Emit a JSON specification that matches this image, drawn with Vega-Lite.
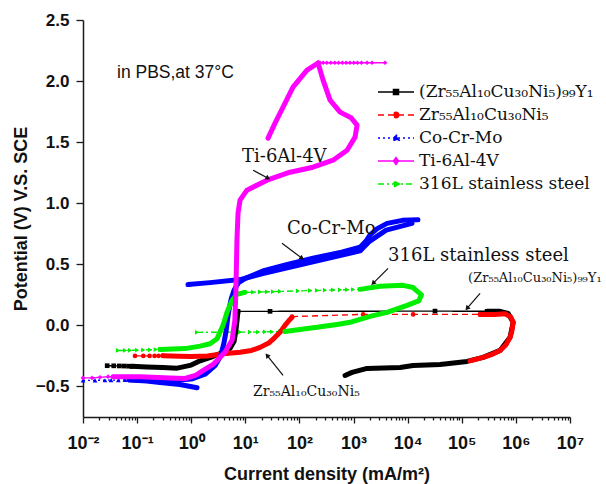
{
"$schema": "https://vega.github.io/schema/vega-lite/v6.json",
"width": 487, "height": 397,
"autosize": {"type": "none"},
"padding": {"left": 83, "top": 20, "right": 36, "bottom": 67},
"background": "white",
"config": {
  "view": {"stroke": null},
  "axis": {"grid": false, "domainColor": "#1a1a1a", "domainWidth": 1.5, "tickColor": "#1a1a1a", "tickWidth": 1.3, "labelFont": "Liberation Sans", "labelFontWeight": "bold", "labelFontSize": 16, "labelColor": "#111111", "titleFont": "Liberation Sans", "titleFontWeight": "bold", "titleFontSize": 18, "titleColor": "#111111"}
},
"datasets": {
"bands": [
{"series":"(Zr₅₅Al₁₀Cu₃₀Ni₅)₉₉Y₁","seg":"k1","i":0,"x":0.08,"y":-0.335},
{"series":"(Zr₅₅Al₁₀Cu₃₀Ni₅)₉₉Y₁","seg":"k1","i":1,"x":0.15,"y":-0.34},
{"series":"(Zr₅₅Al₁₀Cu₃₀Ni₅)₉₉Y₁","seg":"k1","i":2,"x":0.3,"y":-0.345},
{"series":"(Zr₅₅Al₁₀Cu₃₀Ni₅)₉₉Y₁","seg":"k1","i":3,"x":0.55,"y":-0.35},
{"series":"(Zr₅₅Al₁₀Cu₃₀Ni₅)₉₉Y₁","seg":"k1","i":4,"x":1.0,"y":-0.325},
{"series":"(Zr₅₅Al₁₀Cu₃₀Ni₅)₉₉Y₁","seg":"k1","i":5,"x":1.46,"y":-0.29},
{"series":"(Zr₅₅Al₁₀Cu₃₀Ni₅)₉₉Y₁","seg":"k1","i":6,"x":2.5,"y":-0.255},
{"series":"(Zr₅₅Al₁₀Cu₃₀Ni₅)₉₉Y₁","seg":"k1","i":7,"x":3.4,"y":-0.23},
{"series":"(Zr₅₅Al₁₀Cu₃₀Ni₅)₉₉Y₁","seg":"k1","i":8,"x":5.2,"y":-0.19},
{"series":"(Zr₅₅Al₁₀Cu₃₀Ni₅)₉₉Y₁","seg":"k1","i":9,"x":6.2,"y":-0.13},
{"series":"(Zr₅₅Al₁₀Cu₃₀Ni₅)₉₉Y₁","seg":"k1","i":10,"x":6.7,"y":-0.04},
{"series":"(Zr₅₅Al₁₀Cu₃₀Ni₅)₉₉Y₁","seg":"k1","i":11,"x":7.1,"y":0.06},
{"series":"(Zr₅₅Al₁₀Cu₃₀Ni₅)₉₉Y₁","seg":"k1","i":12,"x":7.3,"y":0.115},
{"series":"(Zr₅₅Al₁₀Cu₃₀Ni₅)₉₉Y₁","seg":"k2","i":0,"x":294000,"y":0.115},
{"series":"(Zr₅₅Al₁₀Cu₃₀Ni₅)₉₉Y₁","seg":"k2","i":1,"x":510000,"y":0.115},
{"series":"(Zr₅₅Al₁₀Cu₃₀Ni₅)₉₉Y₁","seg":"k2","i":2,"x":720000,"y":0.098},
{"series":"(Zr₅₅Al₁₀Cu₃₀Ni₅)₉₉Y₁","seg":"k2","i":3,"x":890000,"y":0.025},
{"series":"(Zr₅₅Al₁₀Cu₃₀Ni₅)₉₉Y₁","seg":"k2","i":4,"x":780000,"y":-0.098},
{"series":"(Zr₅₅Al₁₀Cu₃₀Ni₅)₉₉Y₁","seg":"k2","i":5,"x":510000,"y":-0.205},
{"series":"(Zr₅₅Al₁₀Cu₃₀Ni₅)₉₉Y₁","seg":"k2","i":6,"x":248000,"y":-0.262},
{"series":"(Zr₅₅Al₁₀Cu₃₀Ni₅)₉₉Y₁","seg":"k2","i":7,"x":125000,"y":-0.295},
{"series":"(Zr₅₅Al₁₀Cu₃₀Ni₅)₉₉Y₁","seg":"k2","i":8,"x":39700,"y":-0.32},
{"series":"(Zr₅₅Al₁₀Cu₃₀Ni₅)₉₉Y₁","seg":"k2","i":9,"x":12600,"y":-0.328},
{"series":"(Zr₅₅Al₁₀Cu₃₀Ni₅)₉₉Y₁","seg":"k2","i":10,"x":7230,"y":-0.344},
{"series":"(Zr₅₅Al₁₀Cu₃₀Ni₅)₉₉Y₁","seg":"k2","i":11,"x":1780,"y":-0.352},
{"series":"(Zr₅₅Al₁₀Cu₃₀Ni₅)₉₉Y₁","seg":"k2","i":12,"x":938,"y":-0.385},
{"series":"(Zr₅₅Al₁₀Cu₃₀Ni₅)₉₉Y₁","seg":"k2","i":13,"x":697,"y":-0.41},
{"series":"Zr₅₅Al₁₀Cu₃₀Ni₅","seg":"r1","i":0,"x":0.3,"y":-0.248},
{"series":"Zr₅₅Al₁₀Cu₃₀Ni₅","seg":"r1","i":1,"x":0.6,"y":-0.252},
{"series":"Zr₅₅Al₁₀Cu₃₀Ni₅","seg":"r1","i":2,"x":1.0,"y":-0.255},
{"series":"Zr₅₅Al₁₀Cu₃₀Ni₅","seg":"r1","i":3,"x":2.0,"y":-0.25},
{"series":"Zr₅₅Al₁₀Cu₃₀Ni₅","seg":"r1","i":4,"x":3.9,"y":-0.232},
{"series":"Zr₅₅Al₁₀Cu₃₀Ni₅","seg":"r1","i":5,"x":8.0,"y":-0.22},
{"series":"Zr₅₅Al₁₀Cu₃₀Ni₅","seg":"r1","i":6,"x":13,"y":-0.205},
{"series":"Zr₅₅Al₁₀Cu₃₀Ni₅","seg":"r1","i":7,"x":18.7,"y":-0.18},
{"series":"Zr₅₅Al₁₀Cu₃₀Ni₅","seg":"r1","i":8,"x":27,"y":-0.145},
{"series":"Zr₅₅Al₁₀Cu₃₀Ni₅","seg":"r1","i":9,"x":35,"y":-0.1},
{"series":"Zr₅₅Al₁₀Cu₃₀Ni₅","seg":"r1","i":10,"x":45,"y":-0.05},
{"series":"Zr₅₅Al₁₀Cu₃₀Ni₅","seg":"r1","i":11,"x":54,"y":0.0},
{"series":"Zr₅₅Al₁₀Cu₃₀Ni₅","seg":"r1","i":12,"x":64,"y":0.04},
{"series":"Zr₅₅Al₁₀Cu₃₀Ni₅","seg":"r1","i":13,"x":73,"y":0.066},
{"series":"Zr₅₅Al₁₀Cu₃₀Ni₅","seg":"r2","i":0,"x":218000,"y":0.09},
{"series":"Zr₅₅Al₁₀Cu₃₀Ni₅","seg":"r2","i":1,"x":400000,"y":0.09},
{"series":"Zr₅₅Al₁₀Cu₃₀Ni₅","seg":"r2","i":2,"x":630000,"y":0.095},
{"series":"Zr₅₅Al₁₀Cu₃₀Ni₅","seg":"r2","i":3,"x":800000,"y":0.07},
{"series":"Zr₅₅Al₁₀Cu₃₀Ni₅","seg":"r2","i":4,"x":890000,"y":0.025},
{"series":"Zr₅₅Al₁₀Cu₃₀Ni₅","seg":"r2","i":5,"x":840000,"y":-0.05},
{"series":"Zr₅₅Al₁₀Cu₃₀Ni₅","seg":"r2","i":6,"x":780000,"y":-0.1},
{"series":"Zr₅₅Al₁₀Cu₃₀Ni₅","seg":"r2","i":7,"x":650000,"y":-0.16},
{"series":"Zr₅₅Al₁₀Cu₃₀Ni₅","seg":"r2","i":8,"x":510000,"y":-0.205},
{"series":"Zr₅₅Al₁₀Cu₃₀Ni₅","seg":"r2","i":9,"x":350000,"y":-0.24},
{"series":"Zr₅₅Al₁₀Cu₃₀Ni₅","seg":"r2","i":10,"x":248000,"y":-0.262},
{"series":"Zr₅₅Al₁₀Cu₃₀Ni₅","seg":"r2","i":11,"x":142000,"y":-0.29},
{"series":"Co-Cr-Mo","seg":"b1","i":0,"x":0.074,"y":-0.448},
{"series":"Co-Cr-Mo","seg":"b1","i":1,"x":0.15,"y":-0.455},
{"series":"Co-Cr-Mo","seg":"b1","i":2,"x":0.265,"y":-0.467},
{"series":"Co-Cr-Mo","seg":"b1","i":3,"x":0.62,"y":-0.484},
{"series":"Co-Cr-Mo","seg":"b1","i":4,"x":1.28,"y":-0.51},
{"series":"Co-Cr-Mo","seg":"b2","i":0,"x":0.07,"y":-0.445},
{"series":"Co-Cr-Mo","seg":"b2","i":1,"x":0.2,"y":-0.45},
{"series":"Co-Cr-Mo","seg":"b2","i":2,"x":0.5,"y":-0.45},
{"series":"Co-Cr-Mo","seg":"b2","i":3,"x":1.0,"y":-0.44},
{"series":"Co-Cr-Mo","seg":"b2","i":4,"x":1.8,"y":-0.4},
{"series":"Co-Cr-Mo","seg":"b2","i":5,"x":2.75,"y":-0.33},
{"series":"Co-Cr-Mo","seg":"b2","i":6,"x":3.5,"y":-0.25},
{"series":"Co-Cr-Mo","seg":"b2","i":7,"x":4.0,"y":-0.15},
{"series":"Co-Cr-Mo","seg":"b2","i":8,"x":4.4,"y":-0.05},
{"series":"Co-Cr-Mo","seg":"b2","i":9,"x":4.7,"y":0.05},
{"series":"Co-Cr-Mo","seg":"b2","i":10,"x":5.0,"y":0.13},
{"series":"Co-Cr-Mo","seg":"b2","i":11,"x":5.5,"y":0.22},
{"series":"Co-Cr-Mo","seg":"b2","i":12,"x":6.2,"y":0.29},
{"series":"Co-Cr-Mo","seg":"b2","i":13,"x":7.5,"y":0.35},
{"series":"Co-Cr-Mo","seg":"b2","i":14,"x":10,"y":0.385},
{"series":"Co-Cr-Mo","seg":"b2","i":15,"x":21,"y":0.445},
{"series":"Co-Cr-Mo","seg":"b2","i":16,"x":60,"y":0.5},
{"series":"Co-Cr-Mo","seg":"b2","i":17,"x":178,"y":0.55},
{"series":"Co-Cr-Mo","seg":"b2","i":18,"x":600,"y":0.6},
{"series":"Co-Cr-Mo","seg":"b2","i":19,"x":1318,"y":0.64},
{"series":"Co-Cr-Mo","seg":"b2","i":20,"x":1700,"y":0.69},
{"series":"Co-Cr-Mo","seg":"b2","i":21,"x":2020,"y":0.74},
{"series":"Co-Cr-Mo","seg":"b2","i":22,"x":2700,"y":0.79},
{"series":"Co-Cr-Mo","seg":"b2","i":23,"x":4160,"y":0.835},
{"series":"Co-Cr-Mo","seg":"b2","i":24,"x":8000,"y":0.86},
{"series":"Co-Cr-Mo","seg":"b2","i":25,"x":15500,"y":0.865},
{"series":"Co-Cr-Mo","seg":"b3","i":0,"x":12000,"y":0.835},
{"series":"Co-Cr-Mo","seg":"b3","i":1,"x":4000,"y":0.78},
{"series":"Co-Cr-Mo","seg":"b3","i":2,"x":2000,"y":0.69},
{"series":"Co-Cr-Mo","seg":"b3","i":3,"x":1318,"y":0.61},
{"series":"Co-Cr-Mo","seg":"b3","i":4,"x":178,"y":0.52},
{"series":"Co-Cr-Mo","seg":"b3","i":5,"x":21,"y":0.425},
{"series":"Co-Cr-Mo","seg":"b3","i":6,"x":8,"y":0.375},
{"series":"Co-Cr-Mo","seg":"b3","i":7,"x":2.23,"y":0.35},
{"series":"Co-Cr-Mo","seg":"b3","i":8,"x":0.87,"y":0.335},
{"series":"316L stainless steel","seg":"g1","i":0,"x":0.265,"y":-0.197},
{"series":"316L stainless steel","seg":"g1","i":1,"x":0.767,"y":-0.19},
{"series":"316L stainless steel","seg":"g1","i":2,"x":1.46,"y":-0.17},
{"series":"316L stainless steel","seg":"g1","i":3,"x":2.23,"y":-0.15},
{"series":"316L stainless steel","seg":"g1","i":4,"x":3.0,"y":-0.11},
{"series":"316L stainless steel","seg":"g1","i":5,"x":3.87,"y":0.0},
{"series":"316L stainless steel","seg":"g1","i":6,"x":4.6,"y":0.11},
{"series":"316L stainless steel","seg":"g1","i":7,"x":5.7,"y":0.205},
{"series":"316L stainless steel","seg":"g1","i":8,"x":7.0,"y":0.255},
{"series":"316L stainless steel","seg":"g1","i":9,"x":9.86,"y":0.27},
{"series":"316L stainless steel","seg":"g2","i":0,"x":1318,"y":0.295},
{"series":"316L stainless steel","seg":"g2","i":1,"x":3090,"y":0.32},
{"series":"316L stainless steel","seg":"g2","i":2,"x":8220,"y":0.328},
{"series":"316L stainless steel","seg":"g2","i":3,"x":12600,"y":0.31},
{"series":"316L stainless steel","seg":"g2","i":4,"x":18000,"y":0.25},
{"series":"316L stainless steel","seg":"g2","i":5,"x":16000,"y":0.2},
{"series":"316L stainless steel","seg":"g2","i":6,"x":9750,"y":0.164},
{"series":"316L stainless steel","seg":"g2","i":7,"x":4160,"y":0.107},
{"series":"316L stainless steel","seg":"g2","i":8,"x":2020,"y":0.074},
{"series":"316L stainless steel","seg":"g2","i":9,"x":861,"y":0.025},
{"series":"316L stainless steel","seg":"g2","i":10,"x":495,"y":0.008},
{"series":"316L stainless steel","seg":"g2","i":11,"x":211,"y":-0.016},
{"series":"316L stainless steel","seg":"g2","i":12,"x":102,"y":-0.033},
{"series":"316L stainless steel","seg":"g2","i":13,"x":54,"y":-0.05},
{"series":"Ti-6Al-4V","seg":"m1","i":0,"x":0.036,"y":-0.42},
{"series":"Ti-6Al-4V","seg":"m1","i":1,"x":0.113,"y":-0.42},
{"series":"Ti-6Al-4V","seg":"m1","i":2,"x":0.405,"y":-0.43},
{"series":"Ti-6Al-4V","seg":"m1","i":3,"x":0.77,"y":-0.435},
{"series":"Ti-6Al-4V","seg":"m1","i":4,"x":1.2,"y":-0.41},
{"series":"Ti-6Al-4V","seg":"m1","i":5,"x":1.46,"y":-0.385},
{"series":"Ti-6Al-4V","seg":"m1","i":6,"x":2.53,"y":-0.32},
{"series":"Ti-6Al-4V","seg":"m1","i":7,"x":4.2,"y":-0.22},
{"series":"Ti-6Al-4V","seg":"m1","i":8,"x":5.7,"y":-0.12},
{"series":"Ti-6Al-4V","seg":"m1","i":9,"x":6.4,"y":0.04},
{"series":"Ti-6Al-4V","seg":"m1","i":10,"x":6.7,"y":0.29},
{"series":"Ti-6Al-4V","seg":"m1","i":11,"x":7.0,"y":0.7},
{"series":"Ti-6Al-4V","seg":"m1","i":12,"x":7.33,"y":0.918},
{"series":"Ti-6Al-4V","seg":"m1","i":13,"x":7.98,"y":1.025},
{"series":"Ti-6Al-4V","seg":"m1","i":14,"x":10.7,"y":1.107},
{"series":"Ti-6Al-4V","seg":"m1","i":15,"x":25.2,"y":1.189},
{"series":"Ti-6Al-4V","seg":"m1","i":16,"x":67,"y":1.254},
{"series":"Ti-6Al-4V","seg":"m1","i":17,"x":178,"y":1.295},
{"series":"Ti-6Al-4V","seg":"m1","i":18,"x":418,"y":1.352},
{"series":"Ti-6Al-4V","seg":"m1","i":19,"x":759,"y":1.434},
{"series":"Ti-6Al-4V","seg":"m1","i":20,"x":1066,"y":1.541},
{"series":"Ti-6Al-4V","seg":"m1","i":21,"x":1161,"y":1.639},
{"series":"Ti-6Al-4V","seg":"m1","i":22,"x":900,"y":1.7},
{"series":"Ti-6Al-4V","seg":"m1","i":23,"x":563,"y":1.746},
{"series":"Ti-6Al-4V","seg":"m1","i":24,"x":368,"y":1.844},
{"series":"Ti-6Al-4V","seg":"m1","i":25,"x":273,"y":2.008},
{"series":"Ti-6Al-4V","seg":"m1","i":26,"x":221,"y":2.148},
{"series":"Ti-6Al-4V","seg":"m2","i":0,"x":221,"y":2.148},
{"series":"Ti-6Al-4V","seg":"m2","i":1,"x":138,"y":2.09},
{"series":"Ti-6Al-4V","seg":"m2","i":2,"x":76,"y":1.951},
{"series":"Ti-6Al-4V","seg":"m2","i":3,"x":49.8,"y":1.787},
{"series":"Ti-6Al-4V","seg":"m2","i":4,"x":35.4,"y":1.656},
{"series":"Ti-6Al-4V","seg":"m2","i":5,"x":26.3,"y":1.533}
],
"sparse": [
{"series":"(Zr₅₅Al₁₀Cu₃₀Ni₅)₉₉Y₁","seg":"ks1","i":0,"x":0.028,"y":-0.33},
{"series":"(Zr₅₅Al₁₀Cu₃₀Ni₅)₉₉Y₁","seg":"ks1","i":1,"x":0.037,"y":-0.331},
{"series":"(Zr₅₅Al₁₀Cu₃₀Ni₅)₉₉Y₁","seg":"ks1","i":2,"x":0.047,"y":-0.332},
{"series":"(Zr₅₅Al₁₀Cu₃₀Ni₅)₉₉Y₁","seg":"ks1","i":3,"x":0.058,"y":-0.333},
{"series":"(Zr₅₅Al₁₀Cu₃₀Ni₅)₉₉Y₁","seg":"ks1","i":4,"x":0.07,"y":-0.334},
{"series":"(Zr₅₅Al₁₀Cu₃₀Ni₅)₉₉Y₁","seg":"ks1","i":5,"x":0.08,"y":-0.335},
{"series":"(Zr₅₅Al₁₀Cu₃₀Ni₅)₉₉Y₁","seg":"ks2","i":0,"x":7.3,"y":0.115},
{"series":"(Zr₅₅Al₁₀Cu₃₀Ni₅)₉₉Y₁","seg":"ks2","i":1,"x":28.6,"y":0.115},
{"series":"(Zr₅₅Al₁₀Cu₃₀Ni₅)₉₉Y₁","seg":"ks2","i":2,"x":32000,"y":0.117},
{"series":"(Zr₅₅Al₁₀Cu₃₀Ni₅)₉₉Y₁","seg":"ks2","i":3,"x":294000,"y":0.115},
{"series":"Zr₅₅Al₁₀Cu₃₀Ni₅","seg":"rs1","i":0,"x":0.0914,"y":-0.25},
{"series":"Zr₅₅Al₁₀Cu₃₀Ni₅","seg":"rs1","i":1,"x":0.13,"y":-0.25},
{"series":"Zr₅₅Al₁₀Cu₃₀Ni₅","seg":"rs1","i":2,"x":0.17,"y":-0.25},
{"series":"Zr₅₅Al₁₀Cu₃₀Ni₅","seg":"rs1","i":3,"x":0.21,"y":-0.25},
{"series":"Zr₅₅Al₁₀Cu₃₀Ni₅","seg":"rs1","i":4,"x":0.25,"y":-0.249},
{"series":"Zr₅₅Al₁₀Cu₃₀Ni₅","seg":"rs1","i":5,"x":0.3,"y":-0.248},
{"series":"Zr₅₅Al₁₀Cu₃₀Ni₅","seg":"rs2","i":0,"x":73,"y":0.072},
{"series":"Zr₅₅Al₁₀Cu₃₀Ni₅","seg":"rs2","i":1,"x":1500,"y":0.09},
{"series":"Zr₅₅Al₁₀Cu₃₀Ni₅","seg":"rs2","i":2,"x":12600,"y":0.09},
{"series":"Zr₅₅Al₁₀Cu₃₀Ni₅","seg":"rs2","i":3,"x":218000,"y":0.09},
{"series":"Co-Cr-Mo","seg":"bs1","i":0,"x":0.01,"y":-0.45},
{"series":"Co-Cr-Mo","seg":"bs1","i":1,"x":0.0167,"y":-0.45},
{"series":"Co-Cr-Mo","seg":"bs1","i":2,"x":0.0255,"y":-0.449},
{"series":"Co-Cr-Mo","seg":"bs1","i":3,"x":0.033,"y":-0.448},
{"series":"Co-Cr-Mo","seg":"bs1","i":4,"x":0.045,"y":-0.448},
{"series":"Co-Cr-Mo","seg":"bs1","i":5,"x":0.06,"y":-0.447},
{"series":"Co-Cr-Mo","seg":"bs1","i":6,"x":0.074,"y":-0.447},
{"series":"Co-Cr-Mo","seg":"bs2","i":0,"x":0.87,"y":0.335},
{"series":"Co-Cr-Mo","seg":"bs2","i":1,"x":0.95,"y":0.337},
{"series":"Co-Cr-Mo","seg":"bs2","i":2,"x":1.05,"y":0.34},
{"series":"Co-Cr-Mo","seg":"bs3","i":0,"x":15500,"y":0.865},
{"series":"Ti-6Al-4V","seg":"ms1","i":0,"x":0.01,"y":-0.43},
{"series":"Ti-6Al-4V","seg":"ms1","i":1,"x":0.0147,"y":-0.43},
{"series":"Ti-6Al-4V","seg":"ms1","i":2,"x":0.0206,"y":-0.425},
{"series":"Ti-6Al-4V","seg":"ms1","i":3,"x":0.029,"y":-0.42},
{"series":"Ti-6Al-4V","seg":"ms1","i":4,"x":0.036,"y":-0.42},
{"series":"Ti-6Al-4V","seg":"ms2","i":0,"x":221,"y":2.148},
{"series":"Ti-6Al-4V","seg":"ms2","i":1,"x":240,"y":2.15},
{"series":"Ti-6Al-4V","seg":"ms2","i":2,"x":275,"y":2.15},
{"series":"Ti-6Al-4V","seg":"ms2","i":3,"x":320,"y":2.15},
{"series":"Ti-6Al-4V","seg":"ms2","i":4,"x":380,"y":2.15},
{"series":"Ti-6Al-4V","seg":"ms2","i":5,"x":450,"y":2.15},
{"series":"Ti-6Al-4V","seg":"ms2","i":6,"x":530,"y":2.15},
{"series":"Ti-6Al-4V","seg":"ms2","i":7,"x":620,"y":2.15},
{"series":"Ti-6Al-4V","seg":"ms2","i":8,"x":730,"y":2.15},
{"series":"Ti-6Al-4V","seg":"ms2","i":9,"x":860,"y":2.15},
{"series":"Ti-6Al-4V","seg":"ms2","i":10,"x":1010,"y":2.15},
{"series":"Ti-6Al-4V","seg":"ms2","i":11,"x":1180,"y":2.15},
{"series":"Ti-6Al-4V","seg":"ms2","i":12,"x":1400,"y":2.15},
{"series":"Ti-6Al-4V","seg":"ms2","i":13,"x":1780,"y":2.15},
{"series":"Ti-6Al-4V","seg":"ms2","i":14,"x":2200,"y":2.15},
{"series":"Ti-6Al-4V","seg":"ms2","i":15,"x":3820,"y":2.15},
{"series":"316L stainless steel","seg":"gs1","i":0,"x":0.0444,"y":-0.205},
{"series":"316L stainless steel","seg":"gs1","i":1,"x":0.06,"y":-0.205},
{"series":"316L stainless steel","seg":"gs1","i":2,"x":0.074,"y":-0.204},
{"series":"316L stainless steel","seg":"gs1","i":3,"x":0.1,"y":-0.203},
{"series":"316L stainless steel","seg":"gs1","i":4,"x":0.13,"y":-0.201},
{"series":"316L stainless steel","seg":"gs1","i":5,"x":0.173,"y":-0.2},
{"series":"316L stainless steel","seg":"gs1","i":6,"x":0.22,"y":-0.198},
{"series":"316L stainless steel","seg":"gs1","i":7,"x":0.265,"y":-0.197},
{"series":"316L stainless steel","seg":"gs2","i":0,"x":9.86,"y":0.27},
{"series":"316L stainless steel","seg":"gs2","i":1,"x":13.9,"y":0.272},
{"series":"316L stainless steel","seg":"gs2","i":2,"x":18.7,"y":0.274},
{"series":"316L stainless steel","seg":"gs2","i":3,"x":25.2,"y":0.275},
{"series":"316L stainless steel","seg":"gs2","i":4,"x":32.5,"y":0.276},
{"series":"316L stainless steel","seg":"gs2","i":5,"x":43.8,"y":0.278},
{"series":"316L stainless steel","seg":"gs2","i":6,"x":94,"y":0.282},
{"series":"316L stainless steel","seg":"gs2","i":7,"x":157,"y":0.285},
{"series":"316L stainless steel","seg":"gs2","i":8,"x":211,"y":0.286},
{"series":"316L stainless steel","seg":"gs2","i":9,"x":297,"y":0.288},
{"series":"316L stainless steel","seg":"gs2","i":10,"x":418,"y":0.29},
{"series":"316L stainless steel","seg":"gs2","i":11,"x":563,"y":0.291},
{"series":"316L stainless steel","seg":"gs2","i":12,"x":759,"y":0.292},
{"series":"316L stainless steel","seg":"gs2","i":13,"x":979,"y":0.294},
{"series":"316L stainless steel","seg":"gs2","i":14,"x":1318,"y":0.295},
{"series":"316L stainless steel","seg":"gs3","i":0,"x":1.28,"y":-0.057},
{"series":"316L stainless steel","seg":"gs3","i":1,"x":8,"y":-0.055},
{"series":"316L stainless steel","seg":"gs3","i":2,"x":12.2,"y":-0.055},
{"series":"316L stainless steel","seg":"gs3","i":3,"x":17.2,"y":-0.055},
{"series":"316L stainless steel","seg":"gs3","i":4,"x":23.1,"y":-0.053},
{"series":"316L stainless steel","seg":"gs3","i":5,"x":31.2,"y":-0.052},
{"series":"316L stainless steel","seg":"gs3","i":6,"x":43.8,"y":-0.05},
{"series":"316L stainless steel","seg":"gs3","i":7,"x":54,"y":-0.05}
]
},
"resolve": {"scale": {"color": "independent", "shape": "independent", "strokeDash": "independent", "stroke": "independent", "fill": "independent"}},
"layer": [
{
 "data": {"name": "sparse"},
 "mark": {"type": "line", "strokeWidth": 1.4},
 "encoding": {
  "x": {"field": "x", "type": "quantitative",
        "scale": {"type": "log", "domain": [0.01, 10000000], "nice": false},
        "axis": {"title": "Current density (mA/m²)",
                 "values": [0.01,0.02,0.03,0.04,0.05,0.06,0.07,0.08,0.09,0.1,0.2,0.3,0.4,0.5,0.6,0.7,0.8,0.9,1,2,3,4,5,6,7,8,9,10,20,30,40,50,60,70,80,90,100,200,300,400,500,600,700,800,900,1000,2000,3000,4000,5000,6000,7000,8000,9000,10000,20000,30000,40000,50000,60000,70000,80000,90000,100000,200000,300000,400000,500000,600000,700000,800000,900000,1000000,2000000,3000000,4000000,5000000,6000000,7000000,8000000,9000000,10000000],
                 "labelExpr": "abs(log(datum.value)/LN10 - round(log(datum.value)/LN10)) < 0.01 ? ['10⁻²','10⁻¹','10⁰','10¹','10²','10³','10⁴','10⁵','10⁶','10⁷'][round(log(datum.value)/LN10)+2] : ''",
                 "tickSize": {"condition": {"test": "abs(log(datum.value)/LN10 - round(log(datum.value)/LN10)) < 0.01", "value": 6}, "value": 3},
                 "labelFontSize": 18,
                 "labelOverlap": false, "labelFlush": false, "labelPadding": 11, "titlePadding": 13}},
  "y": {"field": "y", "type": "quantitative",
        "scale": {"domain": [-0.75, 2.5], "nice": false, "zero": false},
        "axis": {"title": "Potential (V) V.S. SCE",
                 "values": [-0.5,-0.25,0,0.25,0.5,0.75,1,1.25,1.5,1.75,2,2.25,2.5],
                 "labelExpr": "abs(datum.value*2 - round(datum.value*2)) < 0.01 ? format(datum.value, '.1f') : ''",
                 "tickSize": {"condition": {"test": "abs(datum.value*2 - round(datum.value*2)) < 0.01", "value": 7}, "value": 4},
                 "labelFontSize": 17,
                 "labelOverlap": false, "labelFlush": false, "labelPadding": 7, "titlePadding": 5}},
  "color": {"field": "series", "type": "nominal", "legend": null,
            "scale": {"domain": ["(Zr₅₅Al₁₀Cu₃₀Ni₅)₉₉Y₁","Zr₅₅Al₁₀Cu₃₀Ni₅","Co-Cr-Mo","Ti-6Al-4V","316L stainless steel"], "range": ["#000000","#ff0000","#0000ff","#ff00ff","#00ee00"]}},
  "strokeDash": {"field": "series", "type": "nominal", "legend": null,
            "scale": {"domain": ["(Zr₅₅Al₁₀Cu₃₀Ni₅)₉₉Y₁","Zr₅₅Al₁₀Cu₃₀Ni₅","Co-Cr-Mo","Ti-6Al-4V","316L stainless steel"], "range": [[1,0],[6,4],[2,3],[1,0],[6,3,2,3]]}},
  "detail": {"field": "seg", "type": "nominal"},
  "order": {"field": "i", "type": "quantitative"}
 }
},
{
 "data": {"name": "sparse"},
 "mark": {"type": "point", "filled": true, "opacity": 1, "size": 22},
 "encoding": {
  "x": {"field": "x", "type": "quantitative"},
  "y": {"field": "y", "type": "quantitative"},
  "color": {"field": "series", "type": "nominal", "legend": null,
            "scale": {"domain": ["(Zr₅₅Al₁₀Cu₃₀Ni₅)₉₉Y₁","Zr₅₅Al₁₀Cu₃₀Ni₅","Co-Cr-Mo","Ti-6Al-4V","316L stainless steel"], "range": ["#000000","#ff0000","#0000ff","#ff00ff","#00ee00"]}},
  "shape": {"field": "series", "type": "nominal", "legend": null,
            "scale": {"domain": ["(Zr₅₅Al₁₀Cu₃₀Ni₅)₉₉Y₁","Zr₅₅Al₁₀Cu₃₀Ni₅","Co-Cr-Mo","Ti-6Al-4V","316L stainless steel"], "range": ["square","circle","triangle-up","diamond","triangle-right"]}}
 }
},
{
 "data": {"name": "bands"},
 "mark": {"type": "line", "strokeWidth": 5, "strokeCap": "round", "strokeJoin": "round"},
 "encoding": {
  "x": {"field": "x", "type": "quantitative"},
  "y": {"field": "y", "type": "quantitative"},
  "color": {"field": "series", "type": "nominal", "legend": null,
            "scale": {"domain": ["(Zr₅₅Al₁₀Cu₃₀Ni₅)₉₉Y₁","Zr₅₅Al₁₀Cu₃₀Ni₅","Co-Cr-Mo","Ti-6Al-4V","316L stainless steel"], "range": ["#000000","#ff0000","#0000ff","#ff00ff","#00ee00"]}},
  "detail": {"field": "seg", "type": "nominal"},
  "order": {"field": "i", "type": "quantitative"}
 }
},
{
 "data": {"name": "sparse"},
 "transform": [{"filter": "datum.x < 0"}],
 "mark": {"type": "point", "filled": true, "opacity": 1, "size": 324, "strokeWidth": 1.5},
 "encoding": {
  "x": {"field": "x", "type": "quantitative"},
  "y": {"field": "y", "type": "quantitative"},
  "fill": {"field": "series", "type": "nominal",
           "scale": {"domain": ["(Zr₅₅Al₁₀Cu₃₀Ni₅)₉₉Y₁","Zr₅₅Al₁₀Cu₃₀Ni₅","Co-Cr-Mo","Ti-6Al-4V","316L stainless steel"], "range": ["#000000","#ff0000","#0000ff","#ff00ff","#00ee00"]},
           "legend": {"orient": "none", "legendX": 303, "legendY": 62, "title": null, "labelFont": "DejaVu Serif", "labelFontSize": 17, "labelColor": "#111111", "labelLimit": 400, "symbolSize": 324, "symbolStrokeWidth": 1.5, "rowPadding": 5, "labelOffset": 13, "padding": 0}},
  "stroke": {"field": "series", "type": "nominal",
           "scale": {"domain": ["(Zr₅₅Al₁₀Cu₃₀Ni₅)₉₉Y₁","Zr₅₅Al₁₀Cu₃₀Ni₅","Co-Cr-Mo","Ti-6Al-4V","316L stainless steel"], "range": ["#000000","#ff0000","#0000ff","#ff00ff","#00ee00"]},
           "legend": {"orient": "none", "legendX": 303, "legendY": 62, "title": null, "labelFont": "DejaVu Serif", "labelFontSize": 17, "labelColor": "#111111", "labelLimit": 400, "symbolSize": 324, "symbolStrokeWidth": 1.5, "rowPadding": 5, "labelOffset": 13, "padding": 0}},
  "shape": {"field": "series", "type": "nominal",
           "scale": {"domain": ["(Zr₅₅Al₁₀Cu₃₀Ni₅)₉₉Y₁","Zr₅₅Al₁₀Cu₃₀Ni₅","Co-Cr-Mo","Ti-6Al-4V","316L stainless steel"],
                     "range": ["M-2,0H2M-0.28,-0.28H0.28V0.28H-0.28Z","M-2,0H2M0.3,0A0.3,0.3,0,1,1,-0.3,0A0.3,0.3,0,1,1,0.3,0Z","M-2,0H2M0,-0.38L0.34,0.24H-0.34Z","M-2,0H2M0,-0.38L0.28,0L0,0.38L-0.28,0Z","M-2,0H2M0.38,0L-0.24,0.34V-0.34Z"]},
           "legend": {"orient": "none", "legendX": 303, "legendY": 62, "title": null, "labelFont": "DejaVu Serif", "labelFontSize": 17, "labelColor": "#111111", "labelLimit": 400, "symbolSize": 324, "symbolStrokeWidth": 1.5, "rowPadding": 5, "labelOffset": 13, "padding": 0}},
  "strokeDash": {"field": "series", "type": "nominal",
           "scale": {"domain": ["(Zr₅₅Al₁₀Cu₃₀Ni₅)₉₉Y₁","Zr₅₅Al₁₀Cu₃₀Ni₅","Co-Cr-Mo","Ti-6Al-4V","316L stainless steel"], "range": [[1,0],[6,4],[2,3],[1,0],[6,3,2,3]]},
           "legend": {"orient": "none", "legendX": 303, "legendY": 62, "title": null, "labelFont": "DejaVu Serif", "labelFontSize": 17, "labelColor": "#111111", "labelLimit": 400, "symbolSize": 324, "symbolStrokeWidth": 1.5, "rowPadding": 5, "labelOffset": 13, "padding": 0}}
 }
},
{"data": {"values": [{}]}, "mark": {"type": "text", "text": "in PBS,at 37°C", "font": "Liberation Sans", "fontSize": 17.5, "align": "left", "baseline": "middle", "color": "#111111"},
 "encoding": {"x": {"datum": 0.0425, "type": "quantitative"}, "y": {"datum": 2.066, "type": "quantitative"}}},
{"data": {"values": [{}]}, "mark": {"type": "text", "text": "Ti-6Al-4V", "font": "DejaVu Serif", "fontSize": 18, "align": "left", "baseline": "middle", "color": "#111111"},
 "encoding": {"x": {"datum": 8.69, "type": "quantitative"}, "y": {"datum": 1.377, "type": "quantitative"}}},
{"data": {"values": [{}]}, "mark": {"type": "text", "text": "Co-Cr-Mo", "font": "DejaVu Serif", "fontSize": 18, "align": "left", "baseline": "middle", "color": "#111111"},
 "encoding": {"x": {"datum": 59, "type": "quantitative"}, "y": {"datum": 0.79, "type": "quantitative"}}},
{"data": {"values": [{}]}, "mark": {"type": "text", "text": "316L stainless steel", "font": "DejaVu Serif", "fontSize": 18, "align": "left", "baseline": "middle", "color": "#111111"},
 "encoding": {"x": {"datum": 4345, "type": "quantitative"}, "y": {"datum": 0.566, "type": "quantitative"}}},
{"data": {"values": [{}]}, "mark": {"type": "text", "text": "(Zr₅₅Al₁₀Cu₃₀Ni₅)₉₉Y₁", "font": "DejaVu Serif", "fontSize": 13, "align": "left", "baseline": "middle", "color": "#111111"},
 "encoding": {"x": {"datum": 131000, "type": "quantitative"}, "y": {"datum": 0.385, "type": "quantitative"}}},
{"data": {"values": [{}]}, "mark": {"type": "text", "text": "Zr₅₅Al₁₀Cu₃₀Ni₅", "font": "DejaVu Serif", "fontSize": 14, "align": "left", "baseline": "middle", "color": "#111111"},
 "encoding": {"x": {"datum": 13.9, "type": "quantitative"}, "y": {"datum": -0.549, "type": "quantitative"}}},
{"data": {"values": [{}]}, "mark": {"type": "rule", "color": "#111111", "strokeWidth": 1.2},
 "encoding": {"x": {"datum": 13.9, "type": "quantitative"}, "y": {"datum": 1.27, "type": "quantitative"}, "x2": {"datum": 26.3}, "y2": {"datum": 1.205}}},
{"data": {"values": [{}]}, "mark": {"type": "point", "shape": "triangle-up", "angle": 118, "size": 30, "filled": true, "opacity": 1, "color": "#111111"},
 "encoding": {"x": {"datum": 26.3, "type": "quantitative"}, "y": {"datum": 1.205, "type": "quantitative"}}},
{"data": {"values": [{}]}, "mark": {"type": "rule", "color": "#111111", "strokeWidth": 1.2},
 "encoding": {"x": {"datum": 47.6, "type": "quantitative"}, "y": {"datum": 0.672, "type": "quantitative"}, "x2": {"datum": 111.7}, "y2": {"datum": 0.549}}},
{"data": {"values": [{}]}, "mark": {"type": "point", "shape": "triangle-up", "angle": 127, "size": 30, "filled": true, "opacity": 1, "color": "#111111"},
 "encoding": {"x": {"datum": 111.7, "type": "quantitative"}, "y": {"datum": 0.549, "type": "quantitative"}}},
{"data": {"values": [{}]}, "mark": {"type": "rule", "color": "#111111", "strokeWidth": 1.2},
 "encoding": {"x": {"datum": 4345, "type": "quantitative"}, "y": {"datum": 0.467, "type": "quantitative"}, "x2": {"datum": 2291}, "y2": {"datum": 0.344}}},
{"data": {"values": [{}]}, "mark": {"type": "point", "shape": "triangle-up", "angle": 225, "size": 30, "filled": true, "opacity": 1, "color": "#111111"},
 "encoding": {"x": {"datum": 2291, "type": "quantitative"}, "y": {"datum": 0.344, "type": "quantitative"}}},
{"data": {"values": [{}]}, "mark": {"type": "rule", "color": "#111111", "strokeWidth": 1.2},
 "encoding": {"x": {"datum": 218000, "type": "quantitative"}, "y": {"datum": 0.262, "type": "quantitative"}, "x2": {"datum": 125000}, "y2": {"datum": 0.139}}},
{"data": {"values": [{}]}, "mark": {"type": "point", "shape": "triangle-up", "angle": 221, "size": 30, "filled": true, "opacity": 1, "color": "#111111"},
 "encoding": {"x": {"datum": 125000, "type": "quantitative"}, "y": {"datum": 0.139, "type": "quantitative"}}},
{"data": {"values": [{}]}, "mark": {"type": "rule", "color": "#111111", "strokeWidth": 1.2},
 "encoding": {"x": {"datum": 49.8, "type": "quantitative"}, "y": {"datum": -0.41, "type": "quantitative"}, "x2": {"datum": 25.2}, "y2": {"datum": -0.246}}},
{"data": {"values": [{}]}, "mark": {"type": "point", "shape": "triangle-up", "angle": 321, "size": 30, "filled": true, "opacity": 1, "color": "#111111"},
 "encoding": {"x": {"datum": 25.2, "type": "quantitative"}, "y": {"datum": -0.246, "type": "quantitative"}}}
]
}
